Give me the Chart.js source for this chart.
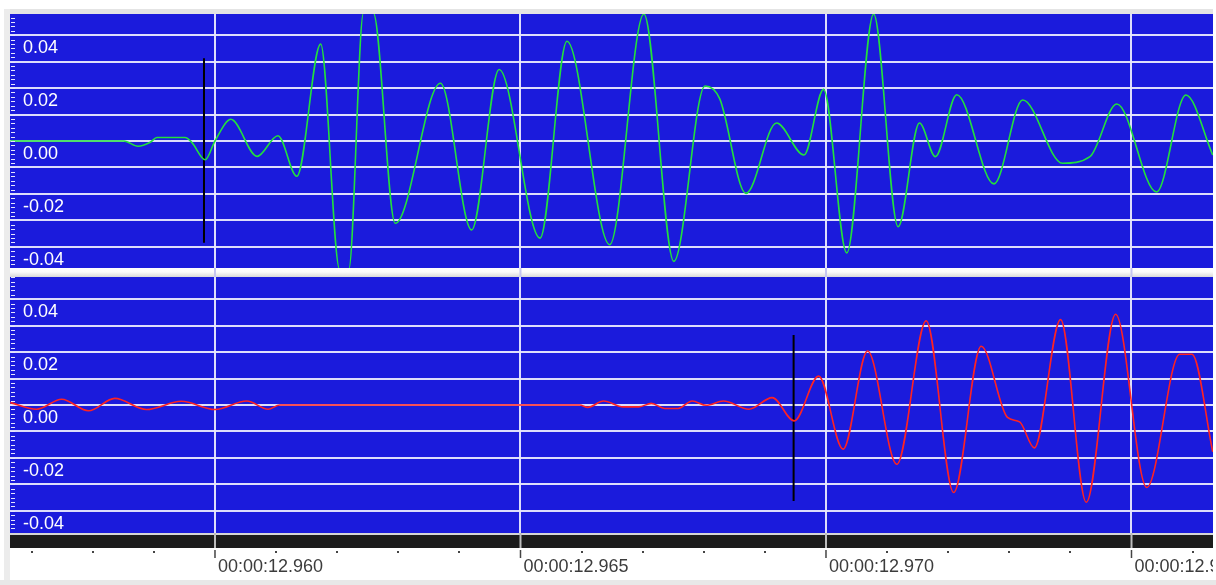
<!DOCTYPE html>
<html><head><meta charset="utf-8">
<script src="https://cdn.jsdelivr.net/npm/chart.js@4.4.1/dist/chart.umd.min.js"></script>
<style>
html,body{margin:0;padding:0;background:#fff;width:1216px;height:585px;overflow:hidden;position:relative;}
canvas{position:absolute;}
.strip{position:absolute;background:#e4e4e4;z-index:2}
</style></head><body>
<div class="strip" style="left:4px;top:9px;width:1209px;height:5px"></div>
<div class="strip" style="left:4px;top:9px;width:6px;height:571px;background:#ececec"></div>
<div class="strip" style="left:0;top:580px;width:1216px;height:5px;background:#e8e8e8"></div>
<canvas id="top" width="1229" height="263" style="left:-16px;top:14px"></canvas>
<canvas id="bot" width="1229" height="308" style="left:-16px;top:277px"></canvas>
<script>
// ---- time axis (milliseconds within the minute) ----
const xMin = 12956.645, xMax = 12976.334;
const timeTicks = [12960, 12965, 12970, 12975];
const yLabelValues = [-0.04, -0.02, 0, 0.02, 0.04];

// ---- top trace (green) ----
const greenT = [12956.65, 12958.51, 12958.74, 12958.94, 12959.05, 12959.51, 12959.62, 12959.84, 12960.00, 12960.26,
  12960.69, 12961.03, 12961.34, 12961.73, 12962.04, 12962.19, 12962.43, 12962.59, 12962.95, 12963.69,
  12964.20, 12964.65, 12965.32, 12965.76, 12966.46, 12967.02, 12967.51, 12968.02, 12968.26, 12968.69,
  12969.19, 12969.64, 12969.96, 12970.34, 12970.78, 12971.18, 12971.53, 12971.79, 12972.14, 12972.75,
  12973.22, 12973.87, 12974.32, 12974.76, 12975.41, 12975.89, 12976.33];
const greenV = [0, 0, -0.0020, -0.0005, 0.0013, 0.0013, -0.0005, -0.0071, 0, 0.0082,
  -0.0058, 0.0020, -0.0133, 0.0366, -0.0485, -0.0485, 0.0485, 0.0485, -0.0311, 0.0218,
  -0.0336, 0.0270, -0.0367, 0.0377, -0.0392, 0.0480, -0.0455, 0.0208, 0.0160, -0.0198, 0.0068,
  -0.0053, 0.0195, -0.0423, 0.0480, -0.0324, 0.0068, -0.0059, 0.0175, -0.0162, 0.0155,
  -0.0084, -0.0059, 0.0140, -0.0193, 0.0174, -0.0053];

// ---- bottom trace (red) ----
const redT = [12956.65, 12957.08, 12957.49, 12957.93, 12958.36, 12958.88, 12959.45, 12960.00, 12960.52, 12960.87,
  12961.06, 12965.97, 12966.10, 12966.36, 12966.68, 12966.94, 12967.14, 12967.36, 12967.58, 12967.81,
  12968.04, 12968.32, 12968.74, 12969.12, 12969.48, 12969.88, 12970.28, 12970.68, 12971.16, 12971.64,
  12972.09, 12972.54, 12972.97, 12973.17, 12973.41, 12973.84, 12974.26, 12974.74, 12975.25, 12975.79,
  12975.99, 12976.33];
const redV = [0.0009, -0.0016, 0.0022, -0.0022, 0.0025, -0.0017, 0.0014, -0.0017, 0.0015, -0.0016,
  0, 0, -0.0009, 0.0015, -0.0007, -0.0007, 0.0006, -0.0013, -0.0013, 0.0015,
  -0.0001, 0.0015, -0.0016, 0.0028, -0.0060, 0.0109, -0.0167, 0.0204, -0.0224, 0.0318,
  -0.0331, 0.0222, -0.0047, -0.0064, -0.0162, 0.0323, -0.0368, 0.0343, -0.0312, 0.0192,
  0.0192, -0.0177];

// ---- picks (black markers) ----
const pickTopT = 12959.82, pickTopV = [0.0313, -0.0385];
const pickBotT = 12969.47, pickBotV = [0.0265, -0.0363];

const BLUE = '#1b1bdc';
const GRID = 'rgba(232,232,252,0.95)';
const FONT = {family: 'Liberation Sans', size: 18};

function isMajor(v) { return timeTicks.some(t => Math.abs(t - v) < 1e-6); }
function noPad(s) { s.paddingTop = 0; s.paddingBottom = 0; s.paddingLeft = 0; s.paddingRight = 0; }

function yAxis(range) {
  return {
    min: -range, max: range, position: 'left',
    afterFit: s => { s.width = 26; noPad(s); },
    ticks: {
      stepSize: 0.01, includeBounds: false, mirror: true, padding: 13, labelOffset: 13,
      color: '#ffffff', font: FONT,
      callback: v => yLabelValues.some(l => Math.abs(l - v) < 1e-9) ? (Math.round(v * 100) / 100).toFixed(2) : ''
    },
    grid: {color: GRID, lineWidth: 2, drawTicks: false},
    border: {display: false}
  };
}

const panelPlugin = {
  id: 'panel',
  beforeDraw(chart) {
    const {ctx, chartArea: a} = chart;
    ctx.save();
    ctx.fillStyle = BLUE;
    ctx.fillRect(a.left, a.top, a.right - a.left, a.bottom - a.top);
    ctx.restore();
  },
  afterDraw(chart) {
    const {ctx, chartArea: a, scales: {x, y}} = chart;
    ctx.save();
    // small marks on the left edge
    ctx.strokeStyle = '#e6e6ff';
    ctx.lineWidth = 1;
    const step = 0.01 / 6;
    for (let k = Math.ceil(y.min / step); k * step <= y.max; k++) {
      const py = Math.round(y.getPixelForValue(k * step)) + 0.5;
      ctx.beginPath(); ctx.moveTo(a.left + 1, py); ctx.lineTo(a.left + 5, py); ctx.stroke();
    }
    const majors = x.ticks.filter(t => isMajor(t.value)).map(t => x.getPixelForValue(t.value));
    if (chart.canvas.id === 'top') {
      const g = ctx.createLinearGradient(0, a.bottom, 0, chart.height);
      g.addColorStop(0, '#ffffff'); g.addColorStop(0.45, '#fafafa'); g.addColorStop(1, '#d8d8d8');
      ctx.fillStyle = g;
      ctx.fillRect(a.left, a.bottom, a.right - a.left, chart.height - a.bottom);
      ctx.strokeStyle = '#c4c4f0'; ctx.lineWidth = 2;
      majors.forEach(px => { ctx.beginPath(); ctx.moveTo(px, a.bottom); ctx.lineTo(px, chart.height); ctx.stroke(); });
    } else {
      ctx.fillStyle = '#d6d6d6';
      ctx.fillRect(a.left, a.bottom, a.right - a.left, 2);
      ctx.fillStyle = '#1c1c1c';
      ctx.fillRect(a.left, a.bottom + 2, a.right - a.left, 13);
      ctx.strokeStyle = '#bdbdbd'; ctx.lineWidth = 2;
      majors.forEach(px => { ctx.beginPath(); ctx.moveTo(px, a.bottom); ctx.lineTo(px, a.bottom + 15); ctx.stroke(); });
      ctx.strokeStyle = '#444'; ctx.lineWidth = 1.5;
      majors.forEach(px => { ctx.beginPath(); ctx.moveTo(px, a.bottom + 17); ctx.lineTo(px, a.bottom + 25); ctx.stroke(); });
      ctx.fillStyle = '#444';
      x.ticks.filter(t => !isMajor(t.value)).forEach(t => {
        const px = x.getPixelForValue(t.value);
        ctx.fillRect(Math.round(px) - 1, a.bottom + 18, 2, 2);
      });
    }
    ctx.restore();
  }
};

function makeChart(id, t, v, color, pickT, pickV, range, bottom) {
  return new Chart(document.getElementById(id), {
    type: 'line',
    data: {
      datasets: [
        {data: t.map((tt, i) => ({x: tt, y: v[i]})), borderColor: color, borderWidth: 1.6,
         pointRadius: 0, cubicInterpolationMode: 'monotone', fill: false},
        {data: [{x: pickT, y: pickV[0]}, {x: pickT, y: pickV[1]}], borderColor: '#000', borderWidth: 2,
         pointRadius: 0, fill: false}
      ]
    },
    options: {
      responsive: false, animation: false, devicePixelRatio: 1, events: [],
      layout: {padding: 0, autoPadding: false},
      plugins: {legend: {display: false}, tooltip: {enabled: false}},
      scales: {
        x: {
          type: 'linear', min: xMin, max: xMax,
          afterFit: s => { s.height = bottom ? 52 : 9; noPad(s); },
          ticks: bottom ? {
            display: true, stepSize: 1, includeBounds: false, autoSkip: false, maxRotation: 0, minRotation: 0,
            align: 'start', labelOffset: 3, padding: 23, color: '#3c3c3c', font: FONT,
            callback: val => isMajor(val) ? '00:00:' + (val / 1000).toFixed(3) : ''
          } : {display: false, stepSize: 1, includeBounds: false},
          grid: {drawTicks: false, lineWidth: 2, color: c => (c.tick && isMajor(c.tick.value)) ? GRID : 'rgba(0,0,0,0)'},
          border: {display: false}
        },
        y: yAxis(range)
      }
    },
    plugins: [panelPlugin]
  });
}

makeChart('top', greenT, greenV, '#22e03c', pickTopT, pickTopV, 0.048, false);
makeChart('bot', redT, redV, '#ff2222', pickBotT, pickBotV, 0.0484, true);
</script>
</body></html>
